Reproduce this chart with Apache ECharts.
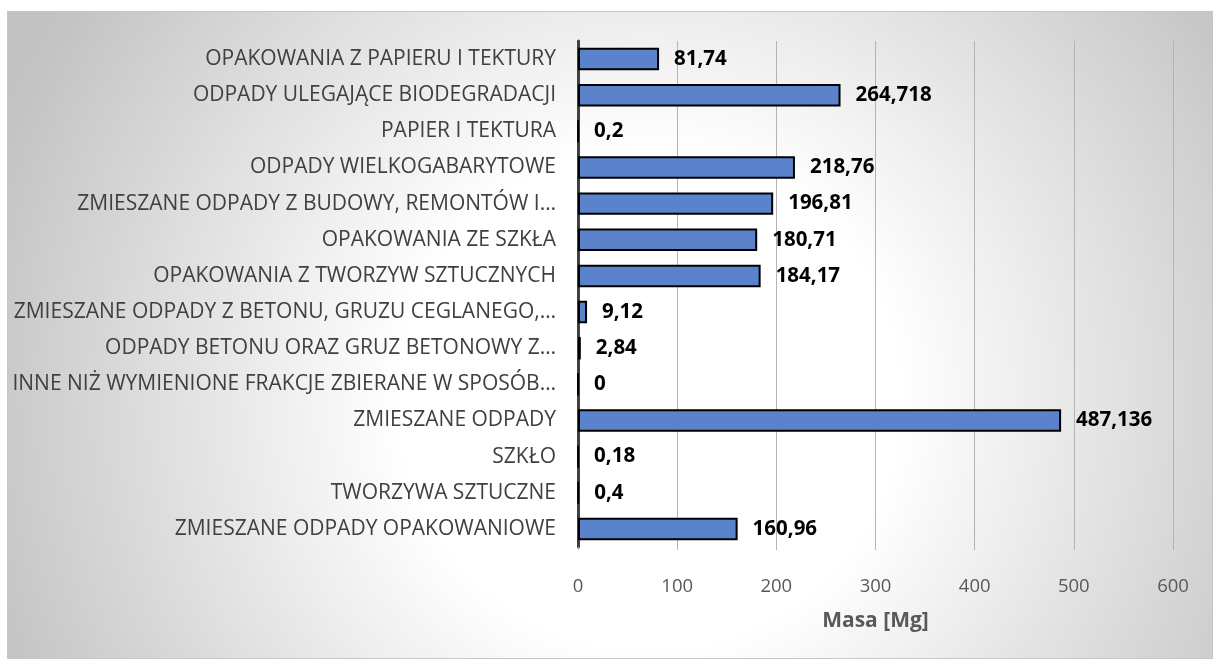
<!DOCTYPE html>
<html lang="pl">
<head>
    <meta charset="UTF-8">
    <title>Masa odpadów</title>
    <style>
        body { margin: 0; background: #ffffff; }
        #chart {
            position: absolute; left: 7px; top: 11px;
            width: 1206px; height: 648px;
            box-sizing: border-box; border: 1px solid #c6c6c6;
        }
    </style>
</head>
<body>
<div id="chart"></div>

<script src="https://cdn.jsdelivr.net/npm/echarts@6/dist/echarts.min.js"></script>
<script type="text/javascript">

    // kategorie od góry do dołu
    var categories = [
        'OPAKOWANIA Z PAPIERU I TEKTURY',
        'ODPADY ULEGAJĄCE BIODEGRADACJI',
        'PAPIER I TEKTURA',
        'ODPADY WIELKOGABARYTOWE',
        'ZMIESZANE ODPADY Z BUDOWY, REMONTÓW I…',
        'OPAKOWANIA ZE SZKŁA',
        'OPAKOWANIA Z TWORZYW SZTUCZNYCH',
        'ZMIESZANE ODPADY Z BETONU, GRUZU CEGLANEGO,…',
        'ODPADY BETONU ORAZ GRUZ BETONOWY Z…',
        'INNE NIŻ WYMIENIONE FRAKCJE ZBIERANE W SPOSÓB…',
        'ZMIESZANE ODPADY',
        'SZKŁO',
        'TWORZYWA SZTUCZNE',
        'ZMIESZANE ODPADY OPAKOWANIOWE'
    ];
    var masa = [81.74, 264.718, 0.2, 218.76, 196.81, 180.71, 184.17, 9.12, 2.84, 0, 487.136, 0.18, 0.4, 160.96];
    var xTicks = [0, 100, 200, 300, 400, 500, 600];

    var font = '"Open Sans", sans-serif';
    var myChart = echarts.init(document.getElementById('chart'));

    var option = {
        backgroundColor: {
            type: 'radial', x: 0.533, y: 0.6, r: 1.1,
            colorStops: [
                {offset: 0, color: '#ffffff'},
                {offset: 0.35, color: '#ffffff'},
                {offset: 0.97, color: '#c4c4c4'},
                {offset: 1, color: '#c2c2c2'}
            ]
        },
        animation: false,
        grid: {left: 570, top: 29, right: 39, bottom: 111, containLabel: false, outerBoundsMode: 'none'},
        xAxis: {
            type: 'value',
            min: xTicks[0],
            max: xTicks[xTicks.length - 1],
            interval: xTicks[1] - xTicks[0],
            name: 'Masa [Mg]',
            nameLocation: 'middle',
            nameGap: 64,
            nameTextStyle: {fontFamily: font, fontSize: 21, fontWeight: 'bold', color: '#595959'},
            axisLine: {show: false},
            axisTick: {show: true, length: 3, lineStyle: {color: '#b3b3b3'}},
            axisLabel: {margin: 30, fontFamily: font, fontSize: 18.5, color: '#595959'},
            splitLine: {lineStyle: {color: '#b3b3b3', width: 1}}
        },
        yAxis: {
            type: 'category',
            inverse: true,
            data: categories,
            axisLine: {lineStyle: {color: '#404040', width: 3}},
            axisTick: {show: false},
            axisLabel: {margin: 22, fontFamily: font, fontSize: 21, color: '#404040'}
        },
        series: [
            {
                name: 'Masa',
                type: 'bar',
                data: masa,
                barCategoryGap: '38%',
                itemStyle: {color: '#5a83cc', borderColor: '#000000', borderWidth: 2},
                label: {
                    show: true,
                    position: 'right',
                    distance: 15,
                    fontFamily: font,
                    fontSize: 20.5,
                    fontWeight: 'bold',
                    color: '#000000',
                    formatter: function (p) { return String(p.value).replace('.', ','); }
                }
            }
        ]
    };

    myChart.setOption(option);
</script>

</body>
</html>
